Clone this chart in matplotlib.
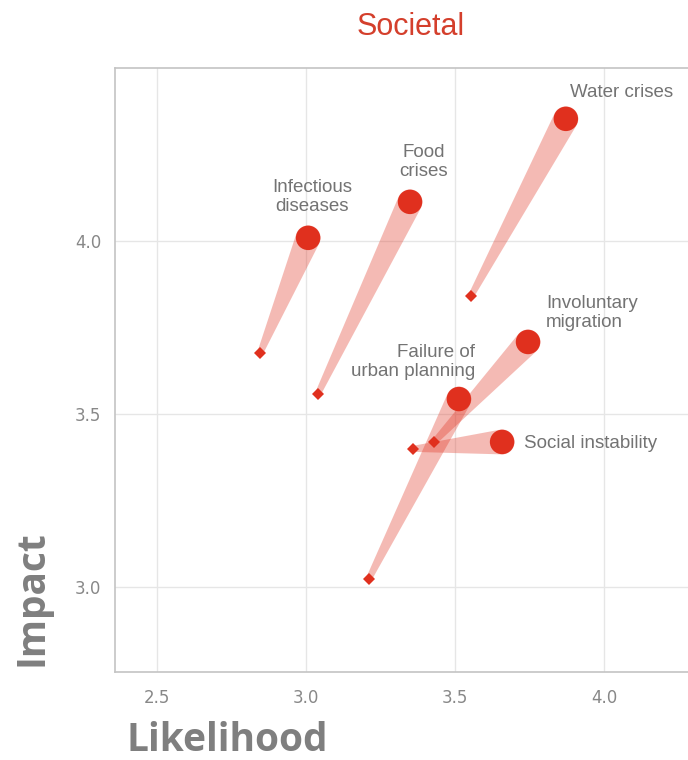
import matplotlib
matplotlib.use("Agg")
import matplotlib.pyplot as plt
import numpy as np
from matplotlib.patches import Polygon

# Risk names and their (likelihood, impact) scores: earlier survey vs. latest
risks = ["Water crises", "Food\ncrises", "Infectious\ndiseases",
         "Involuntary\nmigration", "Failure of\nurban planning", "Social instability"]
likelihood_prev = [3.554, 3.040, 2.846, 3.430, 3.211, 3.359]
impact_prev = [3.841, 3.558, 3.676, 3.419, 3.023, 3.399]
likelihood_now = [3.872, 3.349, 3.007, 3.745, 3.513, 3.658]
impact_now = [4.353, 4.113, 4.009, 3.708, 3.543, 3.419]

x_ticks = [2.5, 3.0, 3.5, 4.0]
y_ticks = [3.0, 3.5, 4.0]

RED = "#e0301e"
GREY_TXT = "#737373"
DPI = 100

fig = plt.figure(figsize=(6.88, 7.6), dpi=DPI)
ax = fig.add_axes([0.1672, 0.1158, 0.8328, 0.7947])
ax.set_xlim(2.359, 4.282)
ax.set_ylim(2.754, 4.5)

ax.set_xticks(x_ticks)
ax.set_yticks(y_ticks)
ax.set_xticklabels([f"{t:.1f}" for t in x_ticks])
ax.set_yticklabels([f"{t:.1f}" for t in y_ticks])
ax.tick_params(length=0, labelsize=12, labelcolor="#888888")
ax.tick_params(axis="x", pad=12)
ax.tick_params(axis="y", pad=10)
ax.grid(True, color="#e6e6e6", linewidth=1.0)
ax.set_axisbelow(True)
for side in ["left", "bottom", "top"]:
    ax.spines[side].set_color("#c4c4c4")
    ax.spines[side].set_linewidth(1.2)
ax.spines["right"].set_visible(False)

# Tapered trail from the earlier position to the current one
def trail(x0, y0, x1, y1, w0=3.0, w1=12.5):
    to_disp = ax.transData
    p0 = to_disp.transform((x0, y0))
    p1 = to_disp.transform((x1, y1))
    d = p1 - p0
    d = d / np.hypot(*d)
    n = np.array([-d[1], d[0]])
    ang0 = np.arctan2(n[1], n[0])
    arc = [p1 + w1 * np.array([np.cos(a), np.sin(a)])
           for a in np.linspace(ang0, ang0 - np.pi, 20)]
    pts = [p0 + n * w0] + arc + [p0 - n * w0]
    pts_data = to_disp.inverted().transform(np.array(pts))
    ax.add_patch(Polygon(pts_data, closed=True, facecolor=RED, alpha=0.33,
                         edgecolor="none", zorder=2))

for x0, y0, x1, y1 in zip(likelihood_prev, impact_prev, likelihood_now, impact_now):
    trail(x0, y0, x1, y1)

ax.plot(likelihood_prev, impact_prev, linestyle="none", marker="D",
        markersize=6.5, color=RED, markeredgewidth=0, zorder=3)
ax.scatter(likelihood_now, impact_now, s=310, color=RED, edgecolors="none", zorder=4)

# Label placement relative to the current marker (pixels), and alignment
label_offsets = [(56, 26), (14, 40), (4, 41), (18, 29), (16, 37), (22, -2)]
label_align = ["center", "center", "center", "left", "right", "left"]
for name, x, y, (dx, dy), ha in zip(risks, likelihood_now, impact_now,
                                    label_offsets, label_align):
    ax.annotate(name, (x, y), xytext=(dx * 72 / DPI, dy * 72 / DPI),
                textcoords="offset points", ha=ha, va="center",
                fontsize=13.5, color=GREY_TXT, family="Liberation Sans",
                linespacing=1.2, zorder=5)

fig.text(0.597, 0.964, "Societal", ha="center", va="center", fontsize=22,
         color="#d43f2c", family="Liberation Sans")
fig.text(0.331, 0.012, "Likelihood", ha="center", va="baseline", fontsize=28,
         color="#7f7f7f", family="Open Sans", fontweight="bold")
fig.text(0.046, 0.213, "Impact", ha="center", va="center", fontsize=28,
         color="#7f7f7f", family="Open Sans", fontweight="bold", rotation=90)

fig.savefig("out.png", dpi=DPI)
